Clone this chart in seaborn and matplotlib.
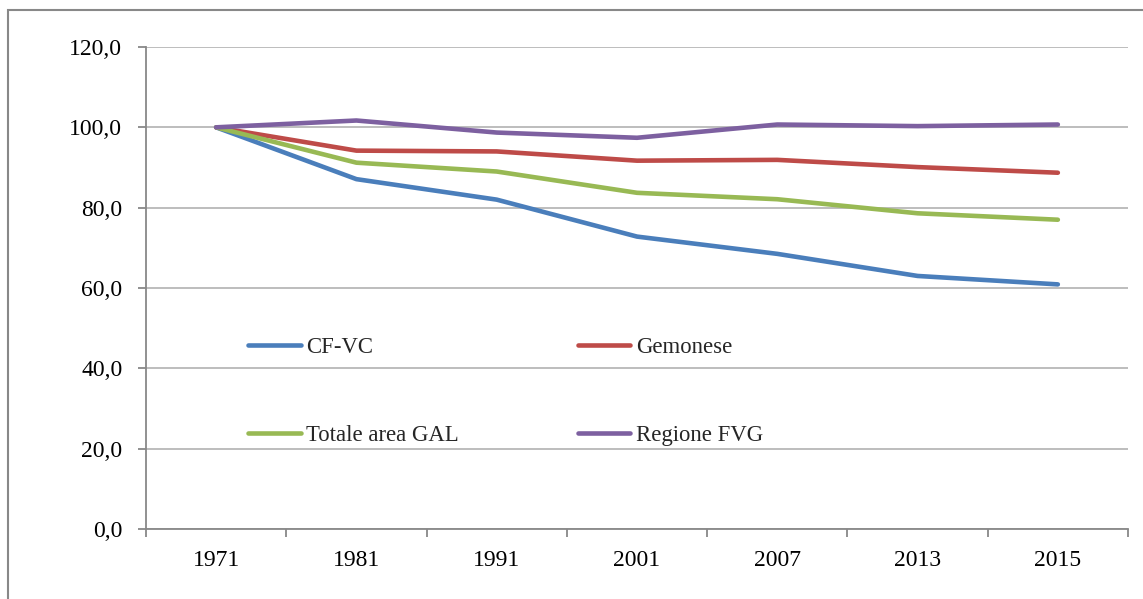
import matplotlib
matplotlib.use("Agg")
import matplotlib.pyplot as plt
import matplotlib.patches as patches
from matplotlib.ticker import FixedLocator, FuncFormatter
import seaborn as sns
import pandas as pd

years = ["1971", "1981", "1991", "2001", "2007", "2013", "2015"]
cf_vc = [100.0, 87.1, 82.0, 72.8, 68.5, 63.0, 60.9]
gemonese = [100.0, 94.2, 94.0, 91.7, 91.9, 90.1, 88.7]
totale_gal = [100.0, 91.2, 89.0, 83.7, 82.1, 78.6, 77.0]
regione_fvg = [100.0, 101.7, 98.7, 97.4, 100.7, 100.3, 100.7]

series = ["CF-VC", "Gemonese", "Totale area GAL", "Regione FVG"]
colors = ["#4A7EBB", "#BE4B48", "#98B954", "#7D60A0"]

df = pd.concat([
    pd.DataFrame({"anno": years, "valore": vals, "serie": name})
    for name, vals in zip(series, [cf_vc, gemonese, totale_gal, regione_fvg])
])

sns.set_theme(style="white")
plt.rcParams["font.family"] = ["Liberation Serif", "DejaVu Serif"]

fig = plt.figure(figsize=(11.43, 5.99), dpi=100)
ax = fig.add_axes([146 / 1143, 1 - 529 / 599, (1128 - 146) / 1143, (529 - 47) / 599])

sns.lineplot(data=df, x="anno", y="valore", hue="serie", hue_order=series,
             palette=colors, linewidth=3.3, sort=False, ax=ax,
             solid_capstyle="round", solid_joinstyle="round")

ax.set_xlim(-0.5, 6.5)
ax.set_ylim(0, 120)
ax.set_yticks(range(0, 121, 20))
ax.yaxis.set_major_formatter(FuncFormatter(lambda v, p: f"{v:.1f}".replace(".", ",")))
ax.grid(axis="y", color="#ABABAB", linewidth=1.1)
ax.grid(axis="x", visible=False)
ax.set_xlabel("")
ax.set_ylabel("")

for side in ["top", "right"]:
    ax.spines[side].set_visible(False)
for side in ["left", "bottom"]:
    ax.spines[side].set_color("#888888")
    ax.spines[side].set_linewidth(1.3)

ax.xaxis.set_minor_locator(FixedLocator([i - 0.5 for i in range(8)]))
ax.tick_params(axis="x", which="major", length=0, pad=15, labelsize=17, labelcolor="black")
ax.tick_params(axis="x", which="minor", bottom=True, length=6, width=1.3, color="#888888", direction="out")
ax.tick_params(axis="y", left=True, length=6, width=1.3, color="#888888", direction="out",
               pad=11, labelsize=17, labelcolor="black")

handles, labels = ax.get_legend_handles_labels()
order = [0, 2, 1, 3]
ax.legend([handles[i] for i in order], [labels[i] for i in order], ncol=2,
          loc="upper left", bbox_to_anchor=(0.104, 0.398), frameon=False,
          borderpad=0, borderaxespad=0, handlelength=2.3, handletextpad=0.26,
          columnspacing=5.2, labelspacing=2.95,
          prop={"family": "Liberation Serif", "size": 16.4})

fig.patches.append(patches.Rectangle((8 / 1143, -0.1), 1.2, 1 - 10 / 599 + 0.1,
                                     transform=fig.transFigure, fill=False,
                                     edgecolor="#888888", linewidth=1.5))

fig.savefig("out.png", dpi=100)
